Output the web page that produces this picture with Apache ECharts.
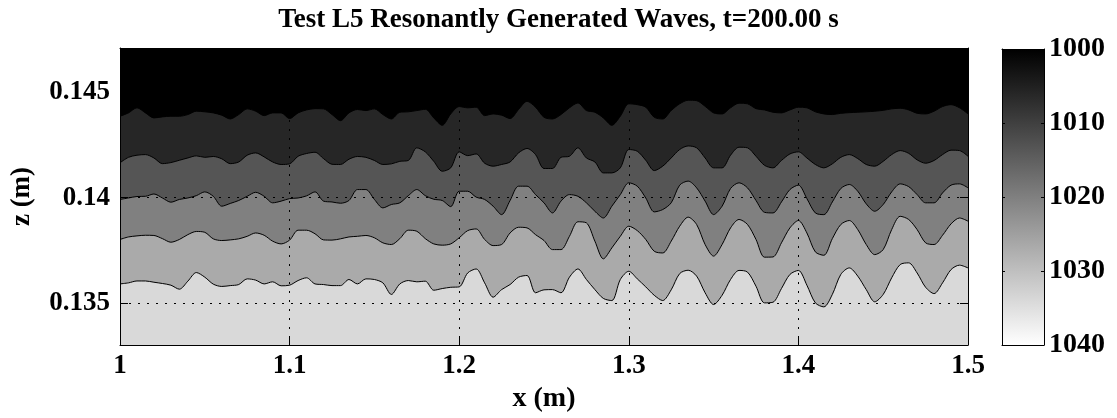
<!DOCTYPE html>
<html><head><meta charset="utf-8">
<script src="https://cdn.jsdelivr.net/npm/echarts@6/dist/echarts.min.js"></script>
<style>html,body{margin:0;padding:0;background:#fff}#c{width:1117px;height:418px}</style>
</head><body><div id="c"></div>
<script>
// sample positions along the tank (m)
const xValues = [1.000,1.005,1.010,1.015,1.020,1.025,1.030,1.035,1.040,1.045,1.050,1.055,1.060,1.065,1.070,1.075,1.080,1.085,1.090,1.095,
1.100,1.105,1.110,1.115,1.120,1.125,1.130,1.135,1.140,1.145,1.150,1.155,1.160,1.165,1.170,1.175,1.180,1.185,1.190,1.195,
1.200,1.205,1.210,1.215,1.220,1.225,1.230,1.235,1.240,1.245,1.250,1.255,1.260,1.265,1.270,1.275,1.280,1.285,1.290,1.295,
1.300,1.305,1.310,1.315,1.320,1.325,1.330,1.335,1.340,1.345,1.350,1.355,1.360,1.365,1.370,1.375,1.380,1.385,1.390,1.395,
1.400,1.405,1.410,1.415,1.420,1.425,1.430,1.435,1.440,1.445,1.450,1.455,1.460,1.465,1.470,1.475,1.480,1.485,1.490,1.495,1.500];

// contour heights z (m), top to bottom
const contour1 = [0.14386,0.14402,0.14426,0.14402,0.14378,0.14383,0.14386,0.14386,0.14394,0.14410,0.14407,0.14402,0.14391,0.14373,0.14394,0.14421,0.14410,0.14389,0.14402,0.14402,0.14375,
0.14402,0.14416,0.14422,0.14421,0.14394,0.14365,0.14402,0.14418,0.14413,0.14421,0.14394,0.14373,0.14405,0.14407,0.14413,0.14419,0.14378,0.14343,0.14397,0.14432,
0.14426,0.14429,0.14389,0.14397,0.14391,0.14375,0.14418,0.14457,0.14429,0.14381,0.14373,0.14394,0.14426,0.14449,0.14413,0.14405,0.14378,0.14343,0.14386,0.14445,
0.14441,0.14429,0.14381,0.14373,0.14413,0.14445,0.14462,0.14460,0.14433,0.14402,0.14397,0.14426,0.14448,0.14445,0.14422,0.14416,0.14405,0.14402,0.14416,0.14429,
0.14426,0.14407,0.14397,0.14394,0.14400,0.14403,0.14405,0.14407,0.14410,0.14414,0.14421,0.14424,0.14416,0.14400,0.14397,0.14410,0.14432,0.14441,0.14426,0.14397];

const contour2 = [0.14165,0.14191,0.14201,0.14204,0.14188,0.14161,0.14166,0.14177,0.14188,0.14198,0.14191,0.14195,0.14184,0.14161,0.14169,0.14201,0.14212,0.14193,0.14169,0.14157,0.14160,
0.14196,0.14209,0.14215,0.14185,0.14158,0.14157,0.14182,0.14195,0.14191,0.14176,0.14157,0.14160,0.14172,0.14176,0.14236,0.14217,0.14172,0.14125,0.14141,0.14217,
0.14199,0.14207,0.14163,0.14149,0.14157,0.14169,0.14212,0.14233,0.14204,0.14138,0.14138,0.14191,0.14196,0.14236,0.14188,0.14169,0.14117,0.14117,0.14141,0.14228,
0.14220,0.14177,0.14128,0.14149,0.14188,0.14228,0.14245,0.14236,0.14188,0.14141,0.14141,0.14201,0.14239,0.14236,0.14196,0.14153,0.14141,0.14176,0.14207,0.14217,
0.14188,0.14157,0.14141,0.14160,0.14191,0.14204,0.14185,0.14157,0.14149,0.14172,0.14204,0.14223,0.14210,0.14179,0.14163,0.14176,0.14204,0.14225,0.14223,0.14196];

const contour3 = [0.13991,0.13998,0.14005,0.14006,0.14017,0.13998,0.13978,0.13991,0.13998,0.14009,0.14027,0.14006,0.13959,0.13972,0.13986,0.14006,0.14025,0.14006,0.13975,0.13983,0.13995,
0.13998,0.14008,0.14027,0.13983,0.13979,0.13973,0.13986,0.14038,0.14038,0.13991,0.13951,0.13967,0.13975,0.14009,0.14038,0.14009,0.13992,0.13986,0.13957,0.14030,
0.14030,0.14002,0.13991,0.13959,0.13919,0.13986,0.14054,0.14054,0.14014,0.13975,0.13927,0.13983,0.14014,0.14006,0.13975,0.13935,0.13903,0.13959,0.14014,0.14070,
0.14054,0.13998,0.13932,0.13943,0.13975,0.14059,0.14078,0.14046,0.13983,0.13919,0.13959,0.14043,0.14070,0.14046,0.13986,0.13930,0.13927,0.13979,0.14038,0.14059,
0.13995,0.13927,0.13919,0.13979,0.14043,0.14062,0.14030,0.13970,0.13935,0.13967,0.14027,0.14065,0.14052,0.14014,0.13975,0.13975,0.14022,0.14059,0.14065,0.14046];

const contour4 = [0.13801,0.13813,0.13818,0.13821,0.13820,0.13805,0.13788,0.13801,0.13824,0.13839,0.13835,0.13804,0.13796,0.13799,0.13804,0.13816,0.13832,0.13821,0.13793,0.13780,0.13798,
0.13845,0.13845,0.13828,0.13799,0.13798,0.13804,0.13813,0.13816,0.13820,0.13809,0.13785,0.13777,0.13805,0.13845,0.13840,0.13805,0.13780,0.13774,0.13780,0.13809,
0.13843,0.13851,0.13801,0.13772,0.13777,0.13832,0.13859,0.13856,0.13824,0.13796,0.13753,0.13753,0.13816,0.13885,0.13880,0.13793,0.13709,0.13761,0.13816,0.13864,
0.13843,0.13801,0.13745,0.13737,0.13793,0.13864,0.13907,0.13872,0.13777,0.13722,0.13777,0.13856,0.13896,0.13872,0.13801,0.13717,0.13718,0.13785,0.13856,0.13891,
0.13832,0.13742,0.13726,0.13805,0.13872,0.13891,0.13848,0.13777,0.13729,0.13753,0.13848,0.13911,0.13896,0.13848,0.13785,0.13777,0.13821,0.13875,0.13903,0.13888];

const contour5 = [0.13590,0.13595,0.13604,0.13604,0.13598,0.13592,0.13584,0.13565,0.13603,0.13644,0.13622,0.13589,0.13578,0.13582,0.13587,0.13614,0.13608,0.13590,0.13600,0.13581,0.13584,
0.13606,0.13619,0.13590,0.13587,0.13582,0.13582,0.13611,0.13590,0.13614,0.13611,0.13595,0.13540,0.13590,0.13606,0.13600,0.13603,0.13560,0.13568,0.13574,0.13576,
0.13642,0.13661,0.13595,0.13527,0.13563,0.13587,0.13622,0.13630,0.13548,0.13562,0.13563,0.13548,0.13622,0.13661,0.13611,0.13563,0.13521,0.13511,0.13611,0.13650,
0.13614,0.13576,0.13536,0.13511,0.13562,0.13639,0.13655,0.13627,0.13548,0.13492,0.13536,0.13611,0.13654,0.13646,0.13579,0.13500,0.13503,0.13568,0.13635,0.13654,
0.13584,0.13500,0.13481,0.13540,0.13635,0.13666,0.13627,0.13563,0.13505,0.13540,0.13619,0.13682,0.13690,0.13642,0.13574,0.13544,0.13595,0.13658,0.13679,0.13666];

const contours = [contour1, contour2, contour3, contour4, contour5];
const bandColors = ['#262626', '#555555', '#808080', '#aaaaaa', '#d9d9d9'];
const zTicks = [0.135, 0.14, 0.145];
const densityMin = 1000, densityMax = 1040, densityStep = 10;
const colorbarRange = [densityMin, densityMax - densityMin];

const FONT = 'Liberation Serif';
const lab = (size) => ({ fontFamily: FONT, fontWeight: 'bold', fontSize: size, color: '#000' });
const black = { color: '#000', width: 1 };
const dotted = { color: '#000', width: 1, type: [2, 7] };

const chart = echarts.init(document.getElementById('c'), null, { renderer: 'canvas' });

const contourSeries = contours.map((arr, i) => ({
  type: 'line', xAxisIndex: 0, yAxisIndex: 0,
  data: xValues.map((x, k) => [x, arr[k]]),
  showSymbol: false, smooth: 0.3, silent: true,
  lineStyle: { color: '#000', width: 1 },
  areaStyle: { color: bandColors[i], opacity: 1, origin: 'start' },
  z: 2
}));

chart.setOption({
  animation: false,
  backgroundColor: '#fff',
  title: { text: 'Test L5 Resonantly Generated Waves, t=200.00 s', left: 'center', top: 2, textStyle: lab(27) },
  grid: [
    { left: 120, top: 48, width: 848, height: 297, show: true, backgroundColor: '#000', borderWidth: 0,
      containLabel: false, outerBoundsMode: 'none' },
    { left: 1002, top: 49, width: 42, height: 296, show: false, containLabel: false, outerBoundsMode: 'none' }
  ],
  xAxis: [
    { type: 'value', gridIndex: 0, min: 1, max: 1.5, interval: 0.1, position: 'bottom', z: 5,
      axisLine: { show: true, onZero: false, lineStyle: black },
      axisTick: { show: true, inside: true, length: 8, lineStyle: black },
      axisLabel: { ...lab(27), margin: 8 },
      splitLine: { show: true, lineStyle: dotted },
      name: 'x (m)', nameLocation: 'middle', nameGap: 38, nameTextStyle: lab(28) },
    { type: 'value', gridIndex: 0, min: 1, max: 1.5, interval: 0.1, position: 'top', z: 5,
      axisLine: { show: true, onZero: false, lineStyle: black },
      axisTick: { show: true, inside: true, length: 8, lineStyle: black },
      axisLabel: { show: false }, splitLine: { show: false } },
    { type: 'category', gridIndex: 1, data: ['c'], position: 'bottom', z: 5,
      axisLine: { show: true, onZero: false, lineStyle: black },
      axisTick: { show: false }, axisLabel: { show: false }, splitLine: { show: false } },
    { type: 'category', gridIndex: 1, data: ['c'], position: 'top', z: 5,
      axisLine: { show: true, onZero: false, lineStyle: black },
      axisTick: { show: false }, axisLabel: { show: false }, splitLine: { show: false } }
  ],
  yAxis: [
    { type: 'value', gridIndex: 0, min: 0.133, max: 0.1471, position: 'left', z: 5,
      axisLine: { show: true, onZero: false, lineStyle: black },
      axisTick: { show: true, inside: true, length: 8, lineStyle: black, customValues: zTicks },
      axisLabel: { ...lab(27), margin: 10, customValues: zTicks },
      splitLine: { show: true, lineStyle: dotted },
      name: 'z (m)', nameLocation: 'middle', nameGap: 84, nameRotate: 90, nameTextStyle: lab(27) },
    { type: 'value', gridIndex: 0, min: 0.133, max: 0.1471, position: 'right', z: 5,
      axisLine: { show: true, onZero: false, lineStyle: black },
      axisTick: { show: true, inside: true, length: 8, lineStyle: black, customValues: zTicks },
      axisLabel: { show: false }, splitLine: { show: false } },
    { type: 'value', gridIndex: 1, min: densityMin, max: densityMax, interval: densityStep, inverse: true, position: 'right', z: 5,
      axisLine: { show: true, onZero: false, lineStyle: black },
      axisTick: { show: true, inside: true, length: 3, lineStyle: black },
      axisLabel: { ...lab(28), margin: 5, formatter: (v) => String(v) },
      splitLine: { show: false } },
    { type: 'value', gridIndex: 1, min: densityMin, max: densityMax, interval: densityStep, inverse: true, position: 'left', z: 5,
      axisLine: { show: true, onZero: false, lineStyle: black },
      axisTick: { show: true, inside: true, length: 3, lineStyle: black },
      axisLabel: { show: false }, splitLine: { show: false } }
  ],
  series: [
    ...contourSeries,
    { type: 'bar', xAxisIndex: 2, yAxisIndex: 2, stack: 'cb', data: [colorbarRange[0]], barWidth: '100%', silent: true,
      itemStyle: { color: 'rgba(0,0,0,0)' } },
    { type: 'bar', xAxisIndex: 2, yAxisIndex: 2, stack: 'cb', data: [colorbarRange[1]], barWidth: '100%', silent: true,
      itemStyle: { color: new echarts.graphic.LinearGradient(0, 49, 0, 345, [
        { offset: 0, color: '#000000' }, { offset: 1, color: '#ffffff' }], true) } }
  ]
});
</script></body></html>
